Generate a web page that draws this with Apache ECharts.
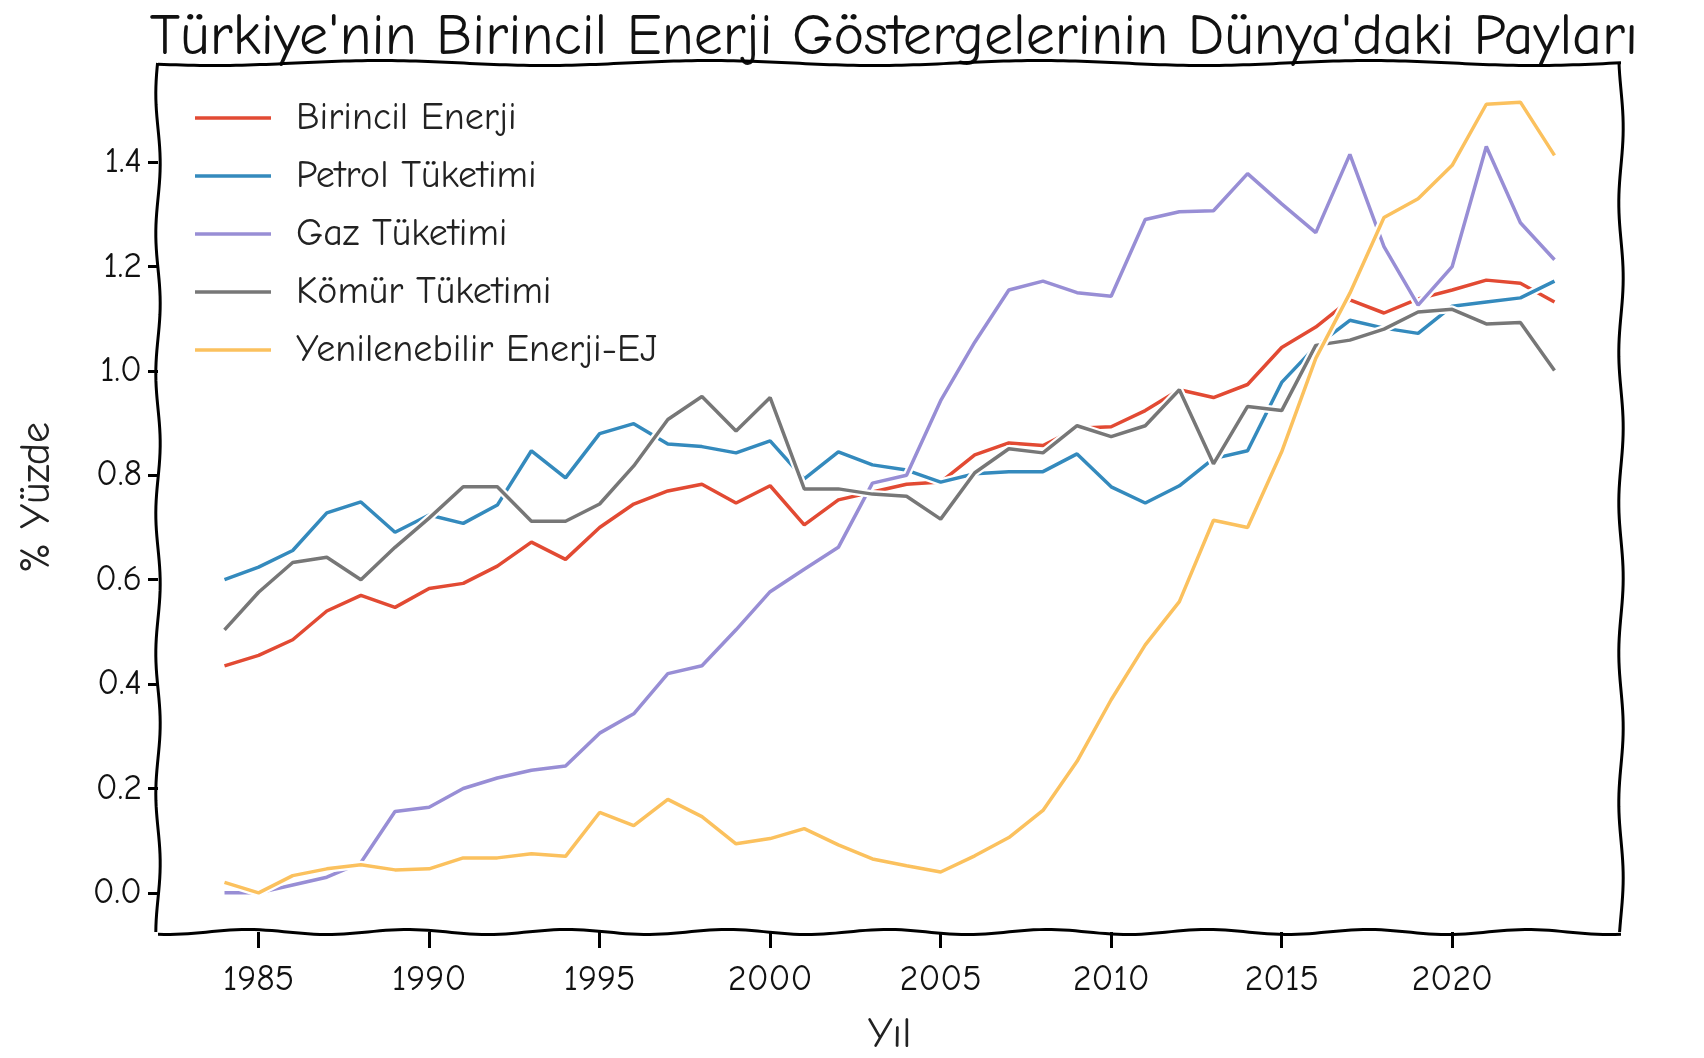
<!DOCTYPE html>
<html lang="tr">
<head>
  <meta charset="UTF-8">
  <title>Türkiye'nin Birincil Enerji Göstergelerinin Dünya'daki Payları</title>
  <script src="https://cdn.jsdelivr.net/npm/echarts@6.0.0/dist/echarts.min.js"></script>
  <style>
    html, body { margin: 0; padding: 0; background: #fff; }
  </style>
</head>
<body>
  <div id="main" style="width: 1704px;height:1058px;"></div>
  <script type="text/javascript">
    // data (share of world, %)
    var years = [1984, 1985, 1986, 1987, 1988, 1989, 1990, 1991, 1992, 1993,
                 1994, 1995, 1996, 1997, 1998, 1999, 2000, 2001, 2002, 2003,
                 2004, 2005, 2006, 2007, 2008, 2009, 2010, 2011, 2012, 2013,
                 2014, 2015, 2016, 2017, 2018, 2019, 2020, 2021, 2022, 2023];

    var birincil = [0.435, 0.455, 0.485, 0.54, 0.57, 0.547, 0.583, 0.593, 0.626, 0.672,
                    0.639, 0.70, 0.745, 0.77, 0.783, 0.747, 0.78, 0.705, 0.753, 0.768,
                    0.783, 0.787, 0.839, 0.862, 0.857, 0.89, 0.893, 0.924, 0.964, 0.949,
                    0.974, 1.045, 1.084, 1.136, 1.111, 1.138, 1.155, 1.174, 1.168, 1.132];

    var petrol = [0.60, 0.624, 0.656, 0.728, 0.749, 0.691, 0.724, 0.708, 0.743, 0.847,
                  0.795, 0.88, 0.899, 0.86, 0.855, 0.843, 0.866, 0.793, 0.845, 0.82,
                  0.81, 0.787, 0.803, 0.807, 0.807, 0.841, 0.778, 0.747, 0.78, 0.832,
                  0.847, 0.978, 1.047, 1.097, 1.082, 1.072, 1.124, 1.132, 1.14, 1.172];

    var gaz = [0.0, 0.0, 0.015, 0.03, 0.058, 0.156, 0.164, 0.20, 0.22, 0.235,
               0.243, 0.306, 0.343, 0.42, 0.435, 0.504, 0.577, 0.62, 0.662, 0.785,
               0.80, 0.943, 1.055, 1.155, 1.172, 1.15, 1.143, 1.29, 1.305, 1.307,
               1.378, 1.32, 1.265, 1.415, 1.238, 1.126, 1.20, 1.43, 1.284, 1.213];

    var komur = [0.504, 0.576, 0.633, 0.643, 0.60, 0.662, 0.718, 0.778, 0.778, 0.712,
                 0.712, 0.745, 0.818, 0.907, 0.951, 0.885, 0.949, 0.774, 0.774, 0.764,
                 0.76, 0.716, 0.805, 0.851, 0.843, 0.895, 0.874, 0.895, 0.964, 0.822,
                 0.932, 0.924, 1.049, 1.059, 1.08, 1.113, 1.118, 1.09, 1.093, 1.001];

    var yenilenebilir = [0.02, 0.0, 0.033, 0.046, 0.054, 0.044, 0.046, 0.067, 0.067, 0.075,
                         0.07, 0.154, 0.129, 0.179, 0.146, 0.094, 0.104, 0.123, 0.092, 0.065,
                         0.052, 0.04, 0.071, 0.106, 0.158, 0.252, 0.37, 0.475, 0.558, 0.714,
                         0.70, 0.845, 1.024, 1.149, 1.294, 1.33, 1.394, 1.511, 1.515, 1.413];

    var seriesNames = ['Birincil Enerji', 'Petrol Tüketimi', 'Gaz Tüketimi', 'Kömür Tüketimi', 'Yenilenebilir Enerji-EJ'];
    var seriesColors = ['#E24A33', '#348ABD', '#988ED5', '#777777', '#FBC15E'];

    var xTicks = [1985, 1990, 1995, 2000, 2005, 2010, 2015, 2020];
    var yTicks = [0.0, 0.2, 0.4, 0.6, 0.8, 1.0, 1.2, 1.4];

    var font = "'Humor Sans', 'Comic Neue', Lato, sans-serif";
    var xMin = 1982.05, xMax = 2024.95, yMin = -0.075, yMax = 1.59;

    var myChart = echarts.init(document.getElementById('main'));

    function pairs(values) {
      return years.map(function (y, i) { return [y, values[i]]; });
    }

    var allValues = [birincil, petrol, gaz, komur, yenilenebilir];
    var series = [];
    seriesNames.forEach(function (name, i) {
      // white halo under each line, like the xkcd path effect
      series.push({
        name: name + ' (halo)',
        type: 'line',
        data: pairs(allValues[i]),
        showSymbol: false,
        silent: true,
        lineStyle: { width: 8, color: '#fff' },
        emphasis: { disabled: true }
      });
      series.push({
        name: name,
        type: 'line',
        data: pairs(allValues[i]),
        showSymbol: false,
        lineStyle: { width: 3.5, color: seriesColors[i] },
        itemStyle: { color: seriesColors[i] },
        emphasis: { disabled: true }
      });
    });

    var option = {
      backgroundColor: '#fff',
      animation: false,
      title: {
        text: "Türkiye'nin Birincil Enerji Göstergelerinin Dünya'daki Payları",
        left: 889,
        top: 4,
        textAlign: 'center',
        textStyle: { fontFamily: font, fontSize: 58, fontWeight: 'normal', color: '#111' }
      },
      legend: {
        orient: 'vertical',
        left: 190,
        top: 94,
        icon: 'rect',
        itemWidth: 76,
        itemHeight: 3.5,
        itemGap: 20,
        data: seriesNames,
        textStyle: {
          fontFamily: font, fontSize: 38, color: '#222',
          lineHeight: 38, padding: [0, 0, 0, 20]
        }
      },
      grid: { left: 158, right: 83, top: 63, bottom: 126, outerBoundsMode: 'none' },
      xAxis: {
        type: 'value',
        min: xMin,
        max: xMax,
        name: 'Yıl',
        nameLocation: 'middle',
        nameGap: 82,
        nameTextStyle: { fontFamily: font, fontSize: 42, color: '#222' },
        axisLine: { show: false, onZero: false },
        splitLine: { show: false },
        axisTick: { show: true, length: 16, customValues: xTicks, lineStyle: { color: '#000', width: 3 } },
        axisLabel: {
          customValues: xTicks,
          margin: 30,
          fontFamily: font, fontSize: 36, color: '#111',
          formatter: function (v) { return String(v); }
        }
      },
      yAxis: {
        type: 'value',
        min: yMin,
        max: yMax,
        name: '% Yüzde',
        nameLocation: 'middle',
        nameGap: 100,
        nameTextStyle: { fontFamily: font, fontSize: 42, color: '#222' },
        axisLine: { show: false, onZero: false },
        splitLine: { show: false },
        axisTick: { show: true, length: 10, customValues: yTicks, lineStyle: { color: '#000', width: 3 } },
        axisLabel: {
          customValues: yTicks,
          margin: 16,
          fontFamily: font, fontSize: 36, color: '#111',
          formatter: function (v) { return v.toFixed(1); }
        }
      },
      series: series
    };

    myChart.setOption(option);

    // hand-drawn looking frame around the plot area
    var p0 = myChart.convertToPixel('grid', [xMin, yMin]);
    var p1 = myChart.convertToPixel('grid', [xMax, yMax]);

    function wiggle(x1, y1, x2, y2, amp, period, phase) {
      var len = Math.hypot(x2 - x1, y2 - y1);
      var nx = -(y2 - y1) / len, ny = (x2 - x1) / len;
      var pts = [];
      var n = Math.ceil(len / 6);
      for (var k = 0; k <= n; k++) {
        var t = k / n;
        var d = amp * Math.sin(2 * Math.PI * (t * len / period) + phase);
        pts.push([x1 + (x2 - x1) * t + nx * d, y1 + (y2 - y1) * t + ny * d]);
      }
      return pts;
    }

    var edges = [
      wiggle(p0[0], p1[1], p1[0], p1[1], 2.5, 330, 0.5),
      wiggle(p0[0], p0[1], p1[0], p0[1], 2.5, 160, 1.2),
      wiggle(p0[0], p1[1], p0[0], p0[1], 2.2, 140, 0.2),
      wiggle(p1[0], p1[1], p1[0], p0[1], 2.2, 150, 2.0)
    ];

    myChart.setOption({
      graphic: edges.map(function (pts) {
        return {
          type: 'polyline',
          silent: true,
          z: 100,
          shape: { points: pts },
          style: { stroke: '#000', lineWidth: 3, fill: null }
        };
      })
    });
  </script>
</body>
</html>
